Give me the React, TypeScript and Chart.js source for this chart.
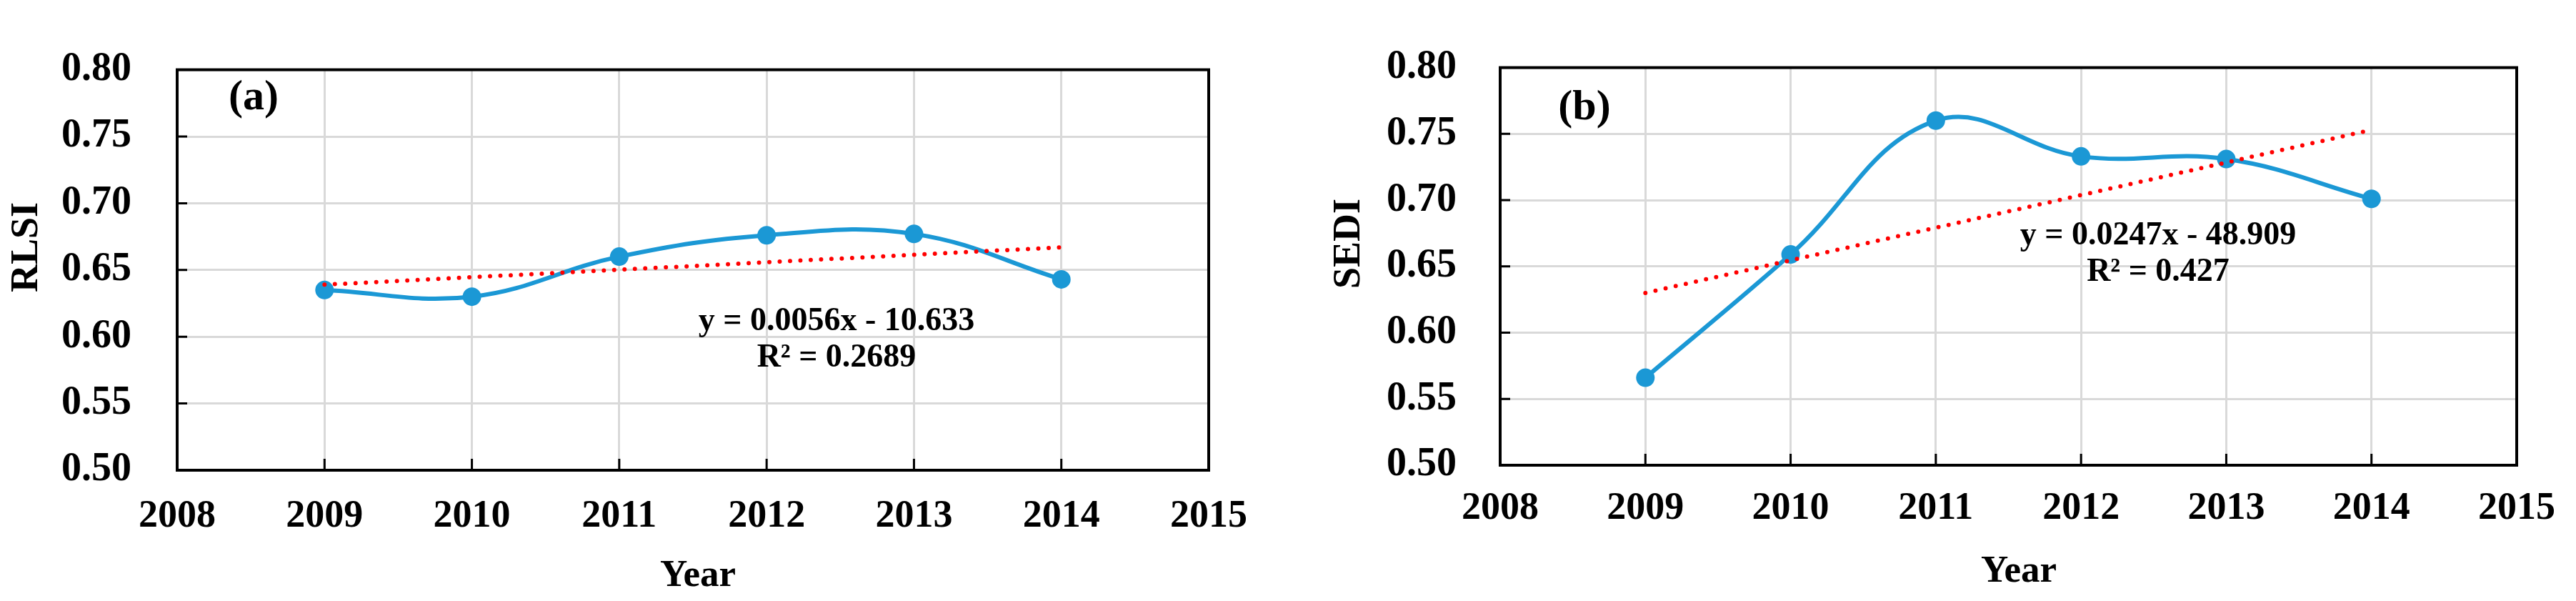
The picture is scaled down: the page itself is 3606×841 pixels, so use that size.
import React, { useEffect, useRef } from 'react';
import { Chart, registerables } from 'chart.js';

Chart.register(...registerables);

// ---------- data ----------
const YEARS = [2009, 2010, 2011, 2012, 2013, 2014];
const RLSI = [0.635, 0.630, 0.660, 0.676, 0.677, 0.643];
const SEDI = [0.566, 0.659, 0.760, 0.733, 0.731, 0.701];
const TREND_YEARS = [2009, 2014];
const RLSI_TREND = [0.639, 0.667];
const SEDI_TREND = [0.630, 0.753];
const X_TICKS = [2008, 2009, 2010, 2011, 2012, 2013, 2014, 2015];
const Y_TICKS = [0.5, 0.55, 0.6, 0.65, 0.7, 0.75, 0.8];
const RLSI_EQ = ['y = 0.0056x - 10.633', 'R\u00B2 = 0.2689'];
const SEDI_EQ = ['y = 0.0247x - 48.909', 'R\u00B2 = 0.427'];

const W = 1803;
const H = 841;
const FONT = "'Liberation Serif', 'Times New Roman', serif";
const BLUE = '#1b98d5';
const RED = '#ff0000';

type Panel = {
  values: number[];
  trend: number[];
  yTitle: string;
  tag: string;
  eq: string[];
  plotLeft: number;
  plotRight: number;
  top: number;
  bottom: number;
  yPad: number;
  xPad: number;
  yTitlePos: [number, number];
  tagPos: [number, number];
  yearPos: [number, number];
  eqPos: [number, number, number];
};

const PANELS: Panel[] = [
  {
    values: RLSI, trend: RLSI_TREND, yTitle: 'RLSI', tag: '(a)', eq: RLSI_EQ,
    plotLeft: 248, plotRight: 1692, top: 38, bottom: 658, yPad: 64, xPad: 33,
    yTitlePos: [38, 346], tagPos: [355, 137], yearPos: [977, 806], eqPos: [1171, 450, 501],
  },
  {
    values: SEDI, trend: SEDI_TREND, yTitle: 'SEDI', tag: '(b)', eq: SEDI_EQ,
    plotLeft: 297, plotRight: 1738, top: 36, bottom: 651, yPad: 61, xPad: 29,
    yTitlePos: [86, 341], tagPos: [415, 151], yearPos: [1023, 800], eqPos: [1218, 330, 381],
  },
];

function makeDeco(p: Panel) {
  return {
    id: 'deco',
    beforeDatasetsDraw(chart: any) {
      const { ctx, chartArea: a, scales } = chart;
      const x = scales.x;
      const y = scales.y;
      ctx.save();
      ctx.strokeStyle = '#000';
      ctx.lineWidth = 3;
      ctx.beginPath();
      X_TICKS.slice(1, -1).forEach((v) => {
        const px = x.getPixelForValue(v);
        ctx.moveTo(px, a.bottom);
        ctx.lineTo(px, a.bottom - 16);
      });
      Y_TICKS.slice(1, -1).forEach((v) => {
        const py = y.getPixelForValue(v);
        ctx.moveTo(a.left, py);
        ctx.lineTo(a.left + 14, py);
      });
      ctx.stroke();
      ctx.lineWidth = 4;
      ctx.strokeRect(a.left, a.top, a.right - a.left, a.bottom - a.top);
      ctx.restore();
    },
    afterDraw(chart: any) {
      const { ctx } = chart;
      ctx.save();
      ctx.fillStyle = '#000';
      ctx.textAlign = 'center';
      ctx.textBaseline = 'middle';
      // y title
      ctx.save();
      ctx.translate(p.yTitlePos[0], p.yTitlePos[1]);
      ctx.rotate(-Math.PI / 2);
      ctx.font = `bold 54px ${FONT}`;
      ctx.fillText(p.yTitle, 0, 0);
      ctx.restore();
      // panel tag
      ctx.font = `bold 60px ${FONT}`;
      ctx.fillText(p.tag, p.tagPos[0], p.tagPos[1]);
      // x title
      ctx.font = `bold 53px ${FONT}`;
      ctx.fillText('Year', p.yearPos[0], p.yearPos[1]);
      // equation
      ctx.font = `bold 46px ${FONT}`;
      ctx.fillText(p.eq[0], p.eqPos[0], p.eqPos[1]);
      ctx.fillText(p.eq[1], p.eqPos[0], p.eqPos[2]);
      ctx.restore();
    },
  };
}

function PanelChart({ p, left }: { p: Panel; left: number }) {
  const ref = useRef<HTMLCanvasElement | null>(null);
  useEffect(() => {
    if (!ref.current) return;
    const xFont = { family: FONT, size: 54, weight: 'bold' as const };
    const yFont = { family: FONT, size: 56, weight: 'bold' as const };
    const chart = new Chart(ref.current, {
      type: 'line',
      data: {
        datasets: [
          {
            data: TREND_YEARS.map((yr, i) => ({ x: yr, y: p.trend[i] })),
            borderColor: RED,
            borderWidth: 6,
            borderDash: [0, 14.5],
            borderCapStyle: 'round',
            pointRadius: 0,
            tension: 0,
            fill: false,
            order: 0,
          },
          {
            data: YEARS.map((yr, i) => ({ x: yr, y: p.values[i] })),
            borderColor: BLUE,
            backgroundColor: BLUE,
            pointBackgroundColor: BLUE,
            pointBorderColor: BLUE,
            pointBorderWidth: 0,
            pointRadius: 13,
            borderWidth: 6,
            tension: 0.4,
            cubicInterpolationMode: 'default',
            fill: false,
            order: 1,
          },
        ],
      },
      options: {
        animation: false,
        responsive: false,
        devicePixelRatio: 1,
        layout: { padding: { left: 0, top: p.top, right: W - p.plotRight, bottom: 0 } },
        plugins: {
          legend: { display: false },
          tooltip: { enabled: false },
          title: { display: false },
        },
        scales: {
          x: {
            type: 'linear',
            min: 2008,
            max: 2015,
            afterBuildTicks: (s: any) => { s.ticks = X_TICKS.map((v) => ({ value: v })); },
            afterFit: (s: any) => { s.height = H - p.bottom; },
            ticks: {
              autoSkip: false,
              maxRotation: 0,
              padding: p.xPad,
              color: '#000',
              font: xFont,
              callback: (v: any) => String(v),
            },
            grid: { color: '#d9d9d9', lineWidth: 3, drawTicks: false },
            border: { display: false },
          },
          y: {
            type: 'linear',
            min: 0.5,
            max: 0.8,
            afterBuildTicks: (s: any) => { s.ticks = Y_TICKS.map((v) => ({ value: v })); },
            afterFit: (s: any) => { s.width = p.plotLeft; },
            ticks: {
              padding: p.yPad,
              color: '#000',
              font: yFont,
              callback: (v: any) => Number(v).toFixed(2),
            },
            grid: { color: '#d9d9d9', lineWidth: 3, drawTicks: false },
            border: { display: false },
          },
        },
      } as any,
      plugins: [makeDeco(p)],
    });
    return () => chart.destroy();
  }, [p]);
  return (
    <canvas
      ref={ref}
      width={W}
      height={H}
      style={{ position: 'absolute', left, top: 0, width: W, height: H }}
    />
  );
}

export default function App() {
  return (
    <div style={{ position: 'absolute', left: 0, top: 0, width: 3606, height: 841, background: '#fff' }}>
      <PanelChart p={PANELS[0]} left={0} />
      <PanelChart p={PANELS[1]} left={W} />
    </div>
  );
}
